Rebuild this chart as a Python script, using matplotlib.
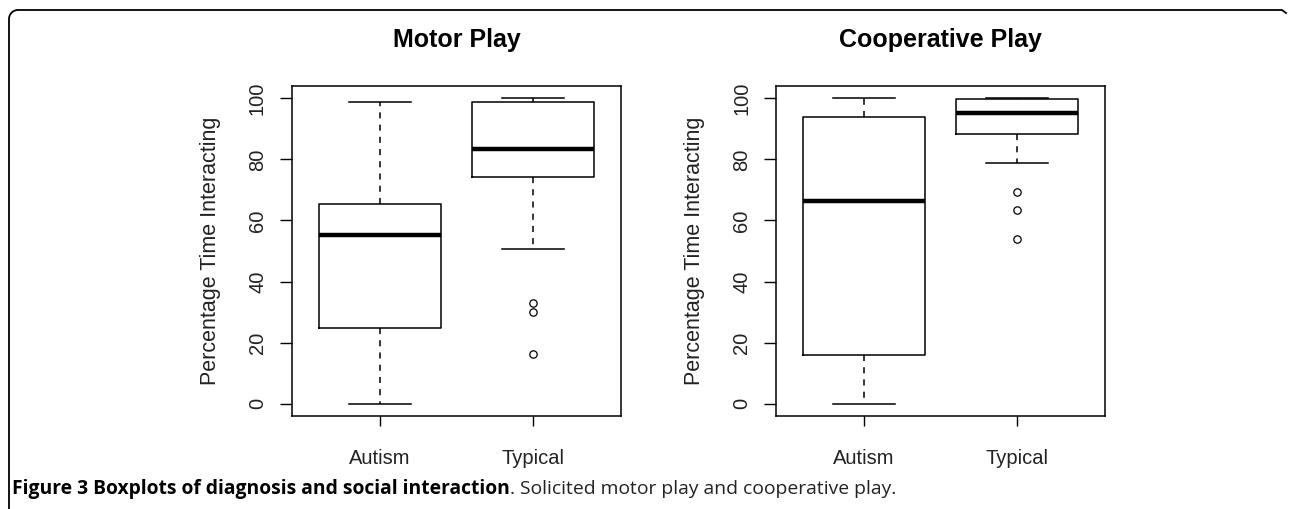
import numpy as np
import matplotlib
matplotlib.use("Agg")
import matplotlib.pyplot as plt
from matplotlib.lines import Line2D

# values (percentage time interacting)
groups = ["Autism", "Typical"]
titles = ["Motor Play", "Cooperative Play"]

motor_autism = dict(whislo=0.0, q1=24.7, med=55.4, q3=65.5, whishi=98.8, fliers=[])
motor_typical = dict(whislo=50.5, q1=74.2, med=83.3, q3=98.8, whishi=100.0, fliers=[33.0, 30.1, 16.3])
coop_autism = dict(whislo=0.0, q1=16.0, med=66.3, q3=93.7, whishi=100.0, fliers=[])
coop_typical = dict(whislo=78.7, q1=88.2, med=95.2, q3=99.6, whishi=100.0, fliers=[69.4, 63.4, 54.0])

panels = [[motor_autism, motor_typical], [coop_autism, coop_typical]]

plt.rcParams['font.family'] = ['Liberation Sans', 'DejaVu Sans']

W, H = 1290, 509
fig = plt.figure(figsize=(W / 100, H / 100), dpi=100)

ax_left = [292, 776]
ax_w, ax_top, ax_bot = 329, 86, 416

for k in range(2):
    ax = fig.add_axes([ax_left[k] / W, 1 - ax_bot / H, ax_w / W, (ax_bot - ax_top) / H])
    stats = panels[k]
    for s in stats:
        s["mean"] = s["med"]
    ax.bxp(stats, positions=[1, 2], widths=0.8, showfliers=True, showcaps=True,
           patch_artist=False,
           boxprops=dict(color="black", lw=1.1),
           medianprops=dict(color="black", lw=3.2, solid_capstyle="butt"),
           whiskerprops=dict(color="black", lw=1.1, linestyle=(0, (4, 4))),
           capprops=dict(color="black", lw=1.1),
           flierprops=dict(marker="o", markersize=5.3, markerfacecolor="none",
                           markeredgecolor="black", markeredgewidth=0.9, linestyle="none"),
           capwidths=0.4)
    ax.set_xlim(1 - 88 / 153, 2 + 88 / 153)
    ax.set_ylim(-4, 104)
    ax.set_yticks([0, 20, 40, 60, 80, 100])
    ax.set_yticklabels(["0", "20", "40", "60", "80", "100"], rotation=90, va="center")
    ax.set_xticks([1, 2])
    ax.set_xticklabels(groups)
    ax.tick_params(axis="y", length=9, width=1, pad=9, labelsize=14.5, labelcolor="#222222")
    ax.tick_params(axis="x", length=7, width=1, pad=17, labelsize=14.5, labelcolor="#222222")
    for sp in ax.spines.values():
        sp.set_linewidth(1.1)
    ax.set_ylabel("Percentage Time Interacting", fontsize=15.5, color="#222222")
    ax.yaxis.set_label_coords(-0.215, 0.5)
    ax.set_title(titles[k], fontsize=18, fontweight="bold", pad=28)

# rounded frame round the figure (top and left edge only)
r = 9
t = np.linspace(np.pi, np.pi / 2, 20)
xs = np.concatenate([[9], 9 + r + r * np.cos(t), [W - 8, W - 4]])
ys = np.concatenate([[H], 10 + r - r * np.sin(t), [10, 13]])
fig.add_artist(Line2D(xs / W, 1 - ys / H, color="black", lw=1.3, transform=fig.transFigure))

# caption
renderer = fig.canvas.get_renderer()
cap_y = 1 - 494 / H
t1 = fig.text(12 / W, cap_y, "Figure 3 Boxplots of diagnosis and social interaction",
              fontsize=13.9, fontweight="bold", family=["Open Sans", "DejaVu Sans"],
              va="baseline", color="black")
bb = t1.get_window_extent(renderer)
fig.text(bb.x1 / W, cap_y, ". Solicited motor play and cooperative play.",
         fontsize=13.9, family=["Open Sans", "DejaVu Sans"], va="baseline", color="#222222")

fig.savefig("out.png", dpi=100)
